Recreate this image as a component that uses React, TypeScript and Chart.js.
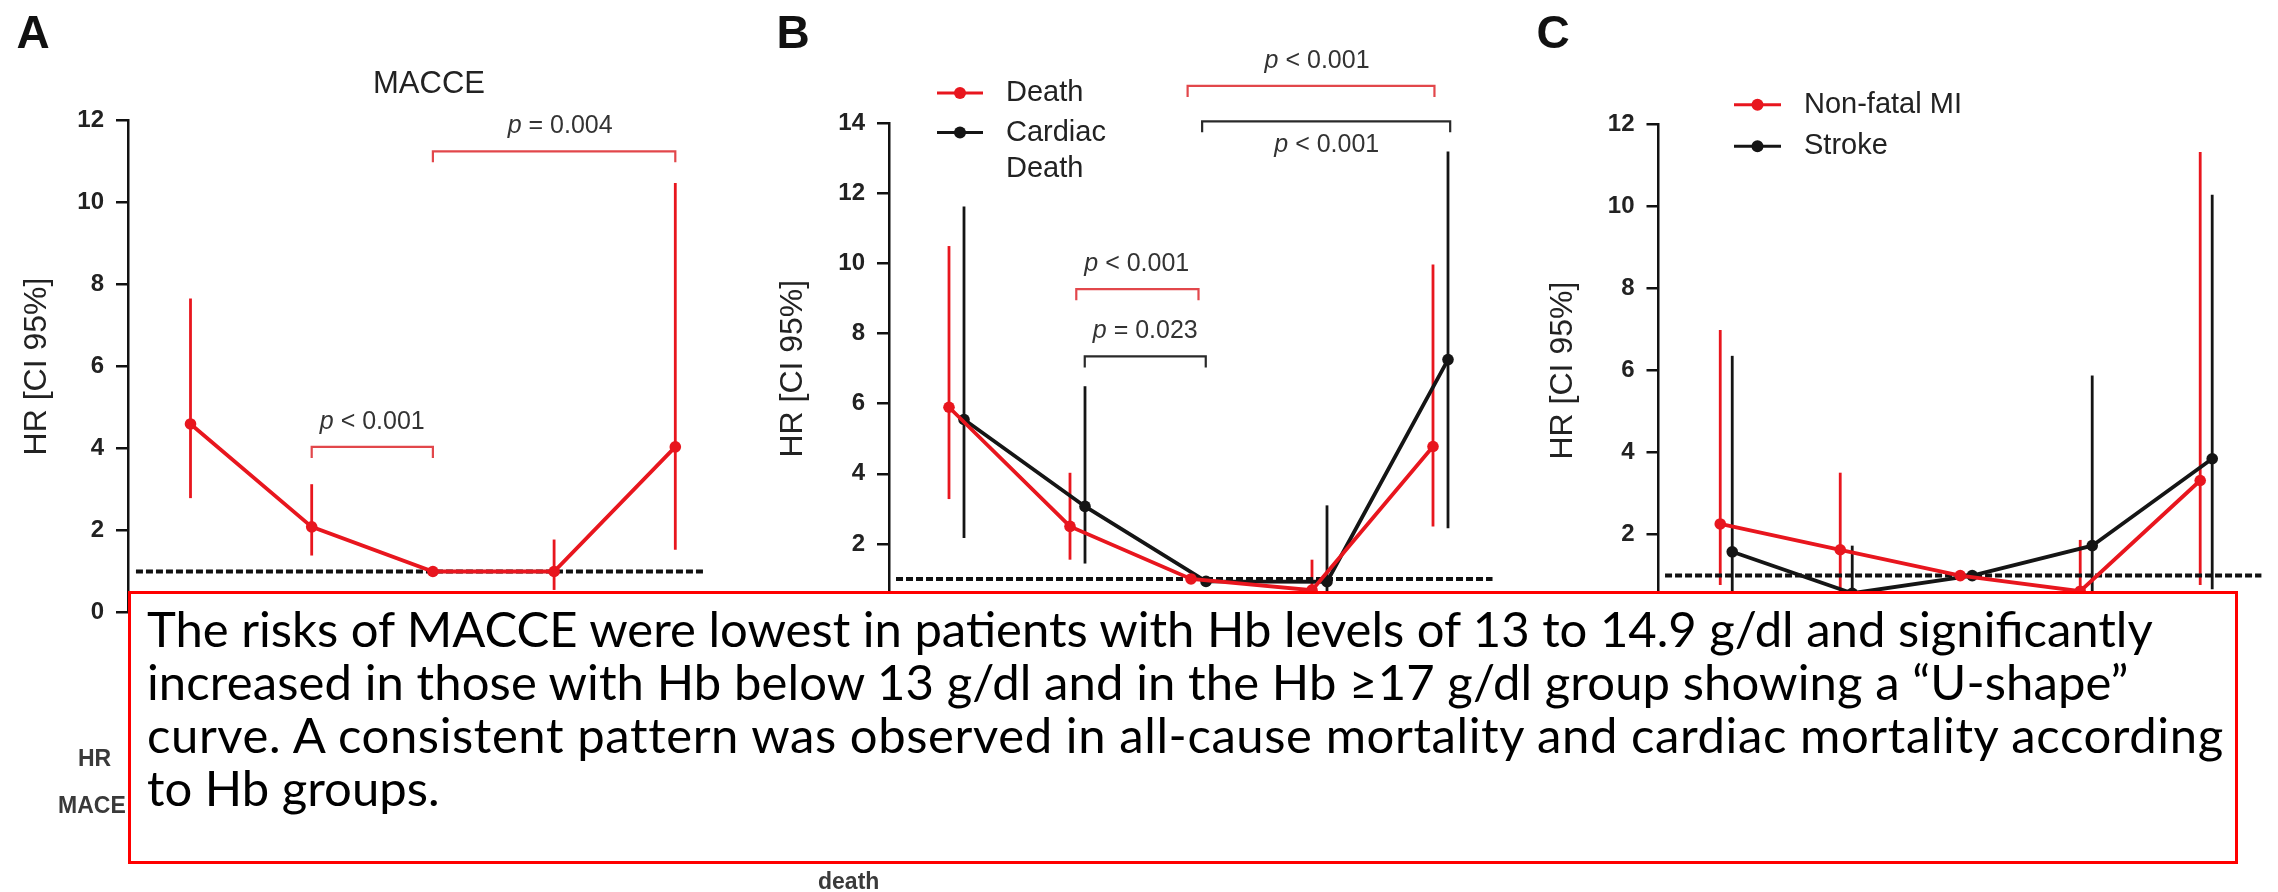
import React, { useEffect, useRef } from 'react';
import { Chart, registerables } from 'chart.js';

Chart.register(...registerables);

const FONT = '"Liberation Sans", Arial, sans-serif';
const RED = '#e8161e';
const BLACK = '#151515';
const RED_BRACKET = '#e2474b';
const BLACK_BRACKET = '#2a2a2a';

// Hb groups (x categories, not labelled in the figure)
const hbGroups = ['<12', '12–12.9', '13–14.9', '15–16.9', '≥17'];

// Panel A: MACCE
const macceHR = [4.6, 2.09, 1.0, 1.0, 4.04];
const macceLow = [2.79, 1.39, null, 0.55, 1.53];
const macceHigh = [7.66, 3.13, null, 1.78, 10.48];

// Panel B: Death / Cardiac death
const deathHR = [5.9, 2.5, 1.0, 0.68, 4.78];
const deathLow = [3.28, 1.55, null, 0.3, 2.5];
const deathHigh = [10.5, 4.03, null, 1.55, 9.97];
const cardiacHR = [5.55, 3.07, 0.93, 0.92, 7.26];
const cardiacLow = [2.17, 1.44, null, 0.25, 2.45];
const cardiacHigh = [11.63, 6.5, null, 3.1, 13.2];

// Panel C: Non-fatal MI / Stroke
const miHR = [2.26, 1.63, 1.0, 0.62, 3.32];
const miLow = [0.77, 0.5, null, 0.3, 0.77];
const miHigh = [6.99, 3.51, null, 1.87, 11.33];
const strokeHR = [1.58, 0.57, 1.0, 1.73, 3.85];
const strokeLow = [0.3, 0.2, null, 0.4, 0.67];
const strokeHigh = [6.36, 1.73, null, 5.88, 10.29];

// p-value brackets: [from group, to group, HR level]
const bracketsA = [
  { from: 1.0, to: 2.0, y: 4.04, text: 'p < 0.001', textX: 1.5, side: 'above', color: RED_BRACKET },
  { from: 2.0, to: 4.0, y: 11.25, text: 'p = 0.004', textX: 3.05, side: 'above', color: RED_BRACKET },
];
const bracketsB = [
  { from: 0.99, to: 2.0, y: 9.27, text: 'p < 0.001', textX: 1.49, side: 'above', color: RED_BRACKET },
  { from: 1.06, to: 2.06, y: 7.35, text: 'p = 0.023', textX: 1.56, side: 'above', color: BLACK_BRACKET },
  { from: 1.91, to: 3.95, y: 15.07, text: 'p < 0.001', textX: 2.98, side: 'above', color: RED_BRACKET },
  { from: 2.03, to: 4.08, y: 14.06, text: 'p < 0.001', textX: 3.06, side: 'below', color: BLACK_BRACKET },
];

const summaryLines = [
  'The risks of MACCE were lowest in patients with Hb levels of 13 to 14.9 g/dl and significantly',
  'increased in those with Hb below 13 g/dl and in the Hb ≥17 g/dl group showing a “U-shape”',
  'curve. A consistent pattern was observed in all-cause mortality and cardiac mortality according',
  'to Hb groups.',
];
const summaryLetterSpacing = [0, 0.1, 0.6, 0];

type Series = {
  label: string;
  legend: string[];
  hr: (number | null)[];
  low: (number | null)[];
  high: (number | null)[];
  color: string;
  offset: number;
};

type PanelCfg = {
  letter: string;
  title?: string;
  left: number;
  width: number;
  axisX: number;
  top: number;
  bottom: number;
  yMax: number;
  firstCenter: number;
  spacing: number;
  xMax: number;
  refFrom: number;
  refTo: number;
  titlePad: number;
  series: Series[];
  brackets: any[];
  legend?: { lineX0: number; lineX1: number; textX: number; rows: number[]; lineGap: number };
};

const panels: PanelCfg[] = [
  {
    letter: 'A', title: 'MACCE', left: 0, width: 760, axisX: 128, top: 120.6, bottom: 612.5, yMax: 12,
    firstCenter: 62.5, spacing: 121.2, xMax: 4.6, refFrom: -0.45, refTo: 4.23, titlePad: 17.8,
    series: [{ label: 'MACCE', legend: ['MACCE'], hr: macceHR, low: macceLow, high: macceHigh, color: RED, offset: 0 }],
    brackets: bracketsA,
  },
  {
    letter: 'B', left: 760, width: 760, axisX: 129, top: 123.4, bottom: 614, yMax: 14,
    firstCenter: 67.5, spacing: 121, xMax: 4.6, refFrom: -0.5, refTo: 4.43, titlePad: 13.8,
    series: [
      { label: 'Death', legend: ['Death'], hr: deathHR, low: deathLow, high: deathHigh, color: RED, offset: -0.062 },
      { label: 'Cardiac Death', legend: ['Cardiac', 'Death'], hr: cardiacHR, low: cardiacLow, high: cardiacHigh, color: BLACK, offset: 0.062 },
    ],
    brackets: bracketsB,
    legend: { lineX0: 177, lineX1: 223, textX: 246, rows: [93, 132.5], lineGap: 36.5 },
  },
  {
    letter: 'C', left: 1520, width: 758, axisX: 138.5, top: 124.6, bottom: 616.6, yMax: 12,
    firstCenter: 68.2, spacing: 120.8, xMax: 4.55, refFrom: -0.51, refTo: 4.46, titlePad: 23.8,
    series: [
      { label: 'Non-fatal MI', legend: ['Non-fatal MI'], hr: miHR, low: miLow, high: miHigh, color: RED, offset: -0.05 },
      { label: 'Stroke', legend: ['Stroke'], hr: strokeHR, low: strokeLow, high: strokeHigh, color: BLACK, offset: 0.05 },
    ],
    brackets: [],
    legend: { lineX0: 214, lineX1: 261, textX: 284, rows: [104.8, 146.3], lineGap: 36.5 },
  },
];

function drawPLabel(ctx: CanvasRenderingContext2D, text: string, cx: number, cy: number, color: string) {
  const first = text.slice(0, 1);
  const rest = text.slice(1);
  ctx.font = `italic 25px ${FONT}`;
  const w1 = ctx.measureText(first).width;
  ctx.font = `25px ${FONT}`;
  const w2 = ctx.measureText(rest).width;
  const x = cx - (w1 + w2) / 2;
  ctx.textAlign = 'left';
  ctx.textBaseline = 'middle';
  ctx.fillStyle = color;
  ctx.font = `italic 25px ${FONT}`;
  ctx.fillText(first, x, cy);
  ctx.font = `25px ${FONT}`;
  ctx.fillText(rest, x + w1, cy);
}

function PanelChart({ cfg }: { cfg: PanelCfg }) {
  const ref = useRef<HTMLCanvasElement>(null);
  useEffect(() => {
    const canvas = ref.current!;
    const xMin = -cfg.firstCenter / cfg.spacing;
    const chartRight = cfg.axisX + (cfg.xMax - xMin) * cfg.spacing;
    const datasets: any[] = cfg.series.map((s) => ({
      type: 'line',
      label: s.label,
      data: s.hr.map((v, i) => ({ x: i + s.offset, y: v, group: hbGroups[i] })),
      borderColor: s.color,
      backgroundColor: s.color,
      borderWidth: 3.8,
      pointRadius: 5.8,
      pointBorderWidth: 0,
      pointBackgroundColor: s.color,
      tension: 0,
      clip: false,
      ciLow: s.low,
      ciHigh: s.high,
      ciOffset: s.offset,
    }));
    datasets.push({
      type: 'line',
      label: 'HR = 1',
      data: [{ x: cfg.refFrom, y: 1 }, { x: cfg.refTo, y: 1 }],
      borderColor: '#111',
      borderWidth: 4,
      borderDash: [7, 3],
      pointRadius: 0,
      clip: false,
    });

    const errorBars = {
      id: 'errorBars',
      beforeDatasetsDraw(chart: any) {
        const { ctx, scales } = chart;
        const x = scales.x, y = scales.y;
        chart.data.datasets.forEach((ds: any) => {
          if (!ds.ciLow) return;
          ctx.save();
          ctx.strokeStyle = ds.borderColor;
          ctx.lineWidth = 2.8;
          ds.ciLow.forEach((lo: number | null, i: number) => {
            const hi = ds.ciHigh[i];
            if (lo == null || hi == null) return;
            const px = x.getPixelForValue(i + ds.ciOffset);
            ctx.beginPath();
            ctx.moveTo(px, y.getPixelForValue(lo));
            ctx.lineTo(px, y.getPixelForValue(hi));
            ctx.stroke();
          });
          ctx.restore();
        });
      },
    };

    const annotations = {
      id: 'annotations',
      afterDraw(chart: any) {
        const { ctx, scales } = chart;
        const x = scales.x, y = scales.y;
        ctx.save();
        ctx.fillStyle = '#111';
        ctx.font = `bold 46px ${FONT}`;
        ctx.textAlign = 'center';
        ctx.textBaseline = 'middle';
        ctx.fillText(cfg.letter, 33, 35);
        if (cfg.title) {
          ctx.font = `31px ${FONT}`;
          ctx.fillStyle = '#222';
          ctx.fillText(cfg.title, 429, 84);
        }
        cfg.brackets.forEach((b: any) => {
          const x0 = x.getPixelForValue(b.from);
          const x1 = x.getPixelForValue(b.to);
          const py = y.getPixelForValue(b.y);
          ctx.strokeStyle = b.color;
          ctx.lineWidth = 2.2;
          ctx.beginPath();
          ctx.moveTo(x0, py + 11);
          ctx.lineTo(x0, py);
          ctx.lineTo(x1, py);
          ctx.lineTo(x1, py + 11);
          ctx.stroke();
          const ty = b.side === 'above' ? py - 25 : py + 24;
          drawPLabel(ctx, b.text, x.getPixelForValue(b.textX), ty, '#333');
        });
        if (cfg.legend) {
          const L = cfg.legend;
          cfg.series.forEach((s, i) => {
            const ry = L.rows[i];
            ctx.strokeStyle = s.color;
            ctx.lineWidth = 3;
            ctx.beginPath();
            ctx.moveTo(L.lineX0, ry);
            ctx.lineTo(L.lineX1, ry);
            ctx.stroke();
            ctx.fillStyle = s.color;
            ctx.beginPath();
            ctx.arc((L.lineX0 + L.lineX1) / 2, ry, 6, 0, Math.PI * 2);
            ctx.fill();
            ctx.fillStyle = '#222';
            ctx.font = `29px ${FONT}`;
            ctx.textAlign = 'left';
            ctx.textBaseline = 'middle';
            s.legend.forEach((line, k) => ctx.fillText(line, L.textX, ry + k * L.lineGap));
          });
        }
        ctx.restore();
      },
    };

    const chart = new Chart(canvas, {
      type: 'line',
      data: { datasets },
      plugins: [errorBars, annotations],
      options: {
        animation: false,
        responsive: false,
        devicePixelRatio: 1,
        layout: { padding: { top: cfg.top, bottom: 892 - cfg.bottom, left: 0, right: cfg.width - chartRight } },
        plugins: { legend: { display: false }, tooltip: { enabled: false }, title: { display: false } },
        scales: {
          x: { type: 'linear', display: false, min: xMin, max: cfg.xMax },
          y: {
            type: 'linear',
            min: 0,
            max: cfg.yMax,
            afterFit: (s: any) => { s.width = cfg.axisX; },
            ticks: { stepSize: 2, color: '#222', padding: 12, font: { family: FONT, size: 24, weight: 'bold' } },
            grid: { drawOnChartArea: false, drawTicks: true, tickLength: 12, color: '#111', lineWidth: 2.5 },
            border: { display: true, color: '#111', width: 2.5 },
            title: {
              display: true,
              text: 'HR [CI 95%]',
              color: '#222',
              font: { family: FONT, size: 32, weight: 'normal' },
              padding: { top: cfg.titlePad, bottom: 0 },
            },
          },
        },
      } as any,
    });
    return () => chart.destroy();
  }, [cfg]);
  return (
    <canvas
      ref={ref}
      width={cfg.width}
      height={892}
      style={{ position: 'absolute', left: cfg.left, top: 0, width: cfg.width, height: 892 }}
    />
  );
}

export default function App() {
  return (
    <div style={{ position: 'absolute', left: 0, top: 0, width: 2278, height: 892, background: '#fff', overflow: 'hidden' }}>
      {panels.map((p) => (
        <PanelChart key={p.letter} cfg={p} />
      ))}
      <div style={{ position: 'absolute', left: 78, top: 745, font: `bold 23px ${FONT}`, color: '#3a3a3a' }}>HR</div>
      <div style={{ position: 'absolute', left: 58, top: 792, font: `bold 23px ${FONT}`, color: '#3a3a3a' }}>MACE</div>
      <div style={{ position: 'absolute', left: 818, top: 868, font: `bold 23px ${FONT}`, color: '#3a3a3a' }}>death</div>
      <div
        style={{
          position: 'absolute',
          left: 128,
          top: 591,
          width: 2110,
          height: 273,
          boxSizing: 'border-box',
          border: '3px solid #ff0000',
          background: '#fff',
          padding: '8px 0 0 16px',
          fontFamily: 'Lato, sans-serif',
          fontSize: 49,
          lineHeight: '53px',
          color: '#000',
        }}
      >
        {summaryLines.map((l, i) => (
          <div key={i} style={{ whiteSpace: 'nowrap', letterSpacing: summaryLetterSpacing[i] }}>{l}</div>
        ))}
      </div>
    </div>
  );
}
